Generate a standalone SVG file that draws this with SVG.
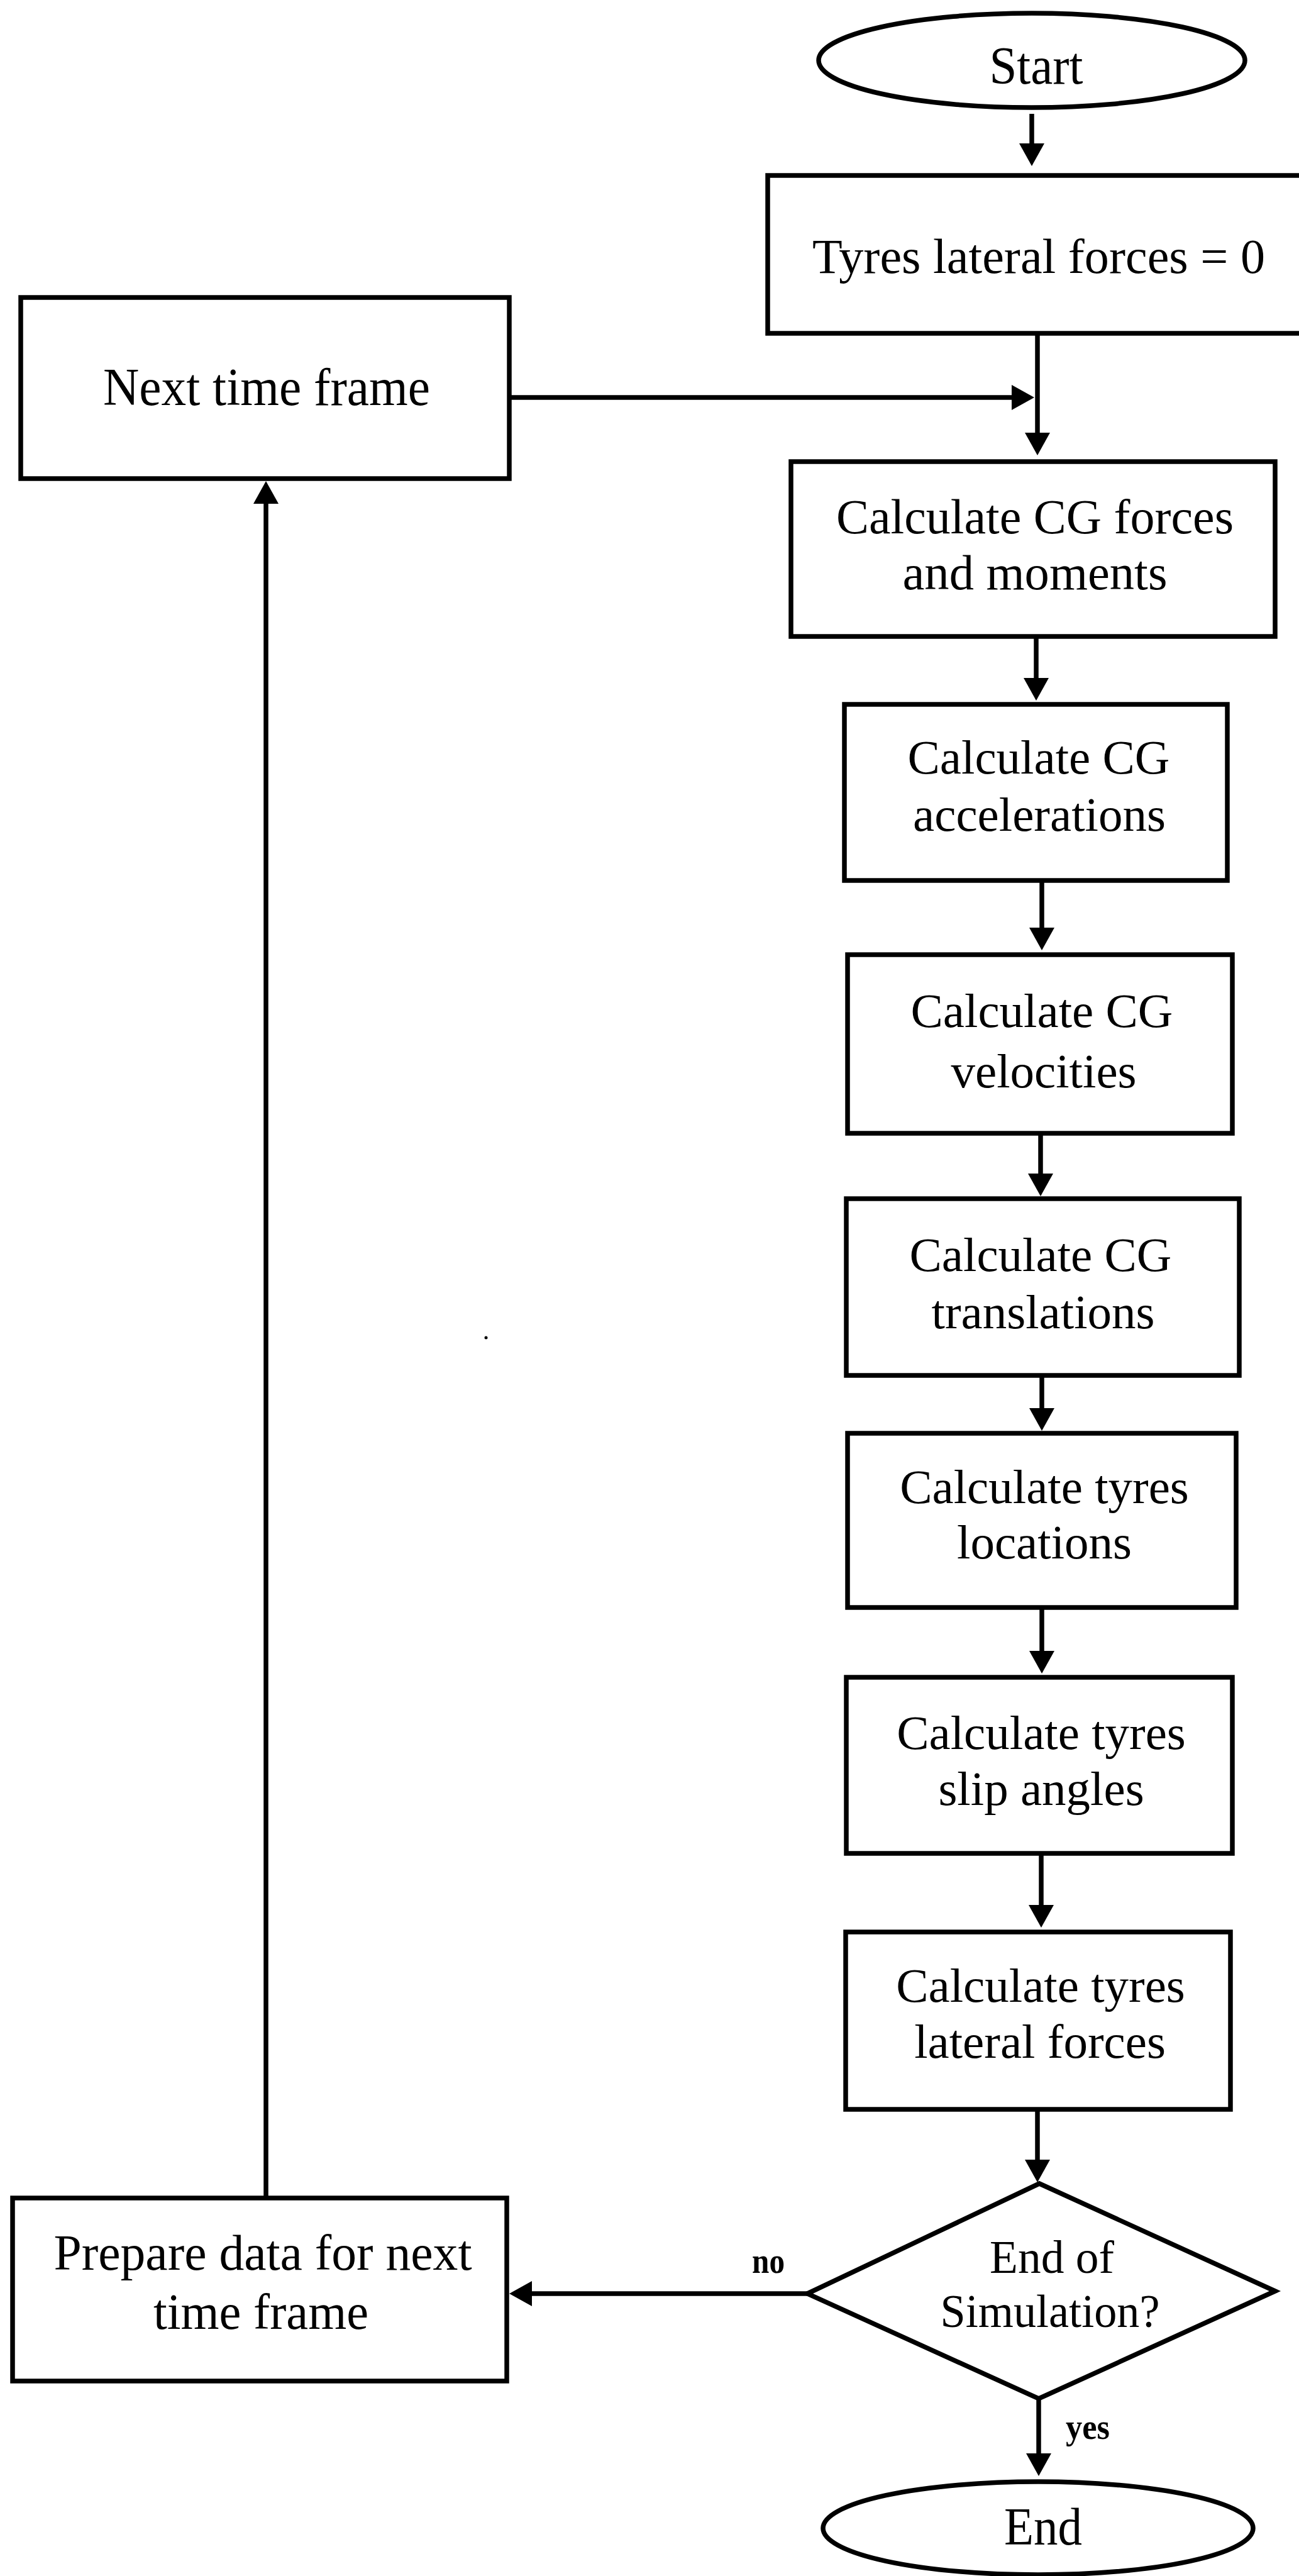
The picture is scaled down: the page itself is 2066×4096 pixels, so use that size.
<svg xmlns="http://www.w3.org/2000/svg" width="2066" height="4096" viewBox="0 0 2066 4096">
<style>
.n{fill:#fff;stroke:#000;stroke-width:7.5}
.t{font-family:"Liberation Serif","Times New Roman",serif;fill:#000;text-anchor:middle}
.m{font-size:77px}
.c{stroke:#000;stroke-width:7.5;fill:none;marker-end:url(#ah)}
.l{font-family:"Liberation Serif","Times New Roman",serif;font-weight:bold;font-size:58px;fill:#000;text-anchor:middle}
</style>
<defs>
<marker id="ah" markerUnits="userSpaceOnUse" markerWidth="36" markerHeight="40" refX="0" refY="20" orient="auto" overflow="visible">
<path d="M0,0 L36,20 L0,40 z" fill="#000"/>
</marker>
</defs>
<rect width="2066" height="4096" fill="#fff"/>
<g id="connectors">
<line class="c" x1="1641" y1="181" x2="1641" y2="228"/>
<line class="c" x1="1650" y1="530" x2="1650" y2="688"/>
<line class="c" x1="810" y1="632" x2="1609" y2="632"/>
<line class="c" x1="1648" y1="1012" x2="1648" y2="1078"/>
<line class="c" x1="1657" y1="1400" x2="1657" y2="1475"/>
<line class="c" x1="1655" y1="1802" x2="1655" y2="1866"/>
<line class="c" x1="1657" y1="2187" x2="1657" y2="2239"/>
<line class="c" x1="1657" y1="2556" x2="1657" y2="2625"/>
<line class="c" x1="1656" y1="2947" x2="1656" y2="3029"/>
<line class="c" x1="1650" y1="3354" x2="1650" y2="3434"/>
<line class="c" x1="1652" y1="3814" x2="1652" y2="3901"/>
<line class="c" x1="1284" y1="3647" x2="846" y2="3647"/>
<line class="c" x1="423" y1="3495" x2="423" y2="801"/>
<text class="l" x="1222" y="3614" textLength="52" lengthAdjust="spacingAndGlyphs">no</text>
<text class="l" x="1730" y="3878" textLength="70" lengthAdjust="spacingAndGlyphs">yes</text>
</g>
<g id="start">
<ellipse class="n" cx="1641" cy="96" rx="339" ry="75"/>
<text class="t" x="1648" y="133" font-size="84" textLength="149" lengthAdjust="spacingAndGlyphs">Start</text>
</g>
<g id="init">
<rect class="n" x="1221" y="279" width="870" height="251"/>
<text class="t" x="1652" y="434" font-size="79" textLength="720" lengthAdjust="spacingAndGlyphs">Tyres lateral forces = 0</text>
</g>
<g id="next">
<rect class="n" x="33" y="473" width="777" height="288"/>
<text class="t" x="424" y="644" font-size="84" textLength="520" lengthAdjust="spacingAndGlyphs">Next time frame</text>
</g>
<g id="forces">
<rect class="n" x="1258" y="734" width="770" height="278"/>
<text class="t" x="1646" y="848" font-size="79" textLength="632" lengthAdjust="spacingAndGlyphs">Calculate CG forces</text>
<text class="t" x="1646" y="937" font-size="79" textLength="421" lengthAdjust="spacingAndGlyphs">and moments</text>
</g>
<g id="accel">
<rect class="n" x="1343" y="1120" width="609" height="280"/>
<text class="t m" x="1652" y="1230">Calculate CG</text>
<text class="t m" x="1653" y="1321">accelerations</text>
</g>
<g id="vel">
<rect class="n" x="1348" y="1518" width="612" height="284"/>
<text class="t m" x="1657" y="1633">Calculate CG</text>
<text class="t m" x="1660" y="1729">velocities</text>
</g>
<g id="trans">
<rect class="n" x="1346" y="1906" width="625" height="281"/>
<text class="t m" x="1655" y="2021">Calculate CG</text>
<text class="t m" x="1659" y="2112">translations</text>
</g>
<g id="loc">
<rect class="n" x="1348" y="2279" width="618" height="277"/>
<text class="t m" x="1661" y="2390">Calculate tyres</text>
<text class="t m" x="1661" y="2478">locations</text>
</g>
<g id="slip">
<rect class="n" x="1346" y="2667" width="614" height="280"/>
<text class="t m" x="1656" y="2781">Calculate tyres</text>
<text class="t m" x="1656" y="2870">slip angles</text>
</g>
<g id="lat">
<rect class="n" x="1345" y="3072" width="612" height="282"/>
<text class="t m" x="1655" y="3183">Calculate tyres</text>
<text class="t m" x="1654" y="3272">lateral forces</text>
</g>
<g id="decision">
<polygon class="n" points="1653,3472 2028,3643 1652,3814 1284,3647"/>
<text class="t" x="1673" y="3614" font-size="75" textLength="198" lengthAdjust="spacingAndGlyphs">End of</text>
<text class="t" x="1670" y="3700" font-size="75" textLength="349" lengthAdjust="spacingAndGlyphs">Simulation?</text>
</g>
<g id="prepare">
<rect class="n" x="20" y="3495" width="786" height="291"/>
<text class="t" x="418" y="3609" font-size="80" textLength="665" lengthAdjust="spacingAndGlyphs">Prepare data for next</text>
<text class="t" x="415" y="3703" font-size="80" textLength="342" lengthAdjust="spacingAndGlyphs">time frame</text>
</g>
<g id="end">
<ellipse class="n" cx="1651" cy="4020" rx="342" ry="74"/>
<text class="t" x="1659" y="4046" font-size="84" textLength="124" lengthAdjust="spacingAndGlyphs">End</text>
</g>
<circle cx="773" cy="2127" r="2.5" fill="#000"/>
</svg>
